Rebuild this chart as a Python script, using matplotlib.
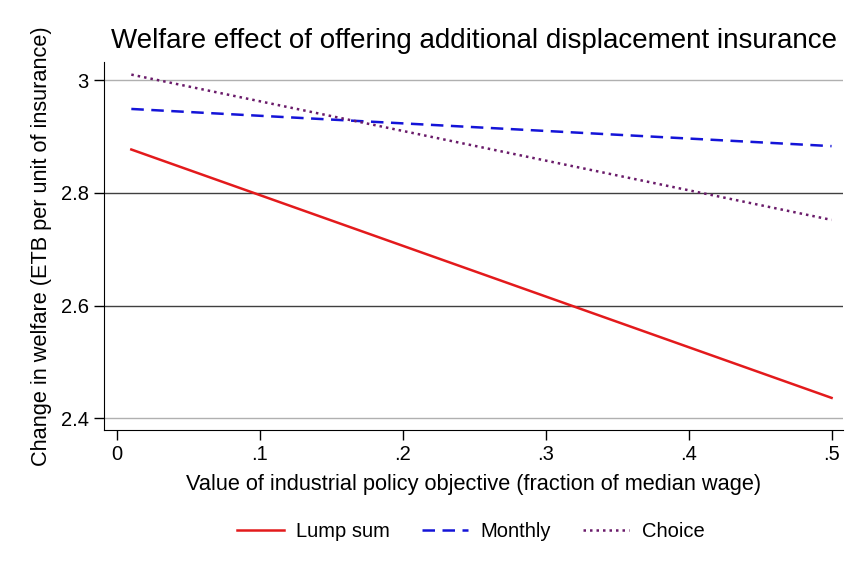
import matplotlib
matplotlib.use("Agg")
import matplotlib.pyplot as plt

plt.rcParams['font.family'] = ['Liberation Sans', 'DejaVu Sans']

x_vals = [0.01, 0.5]
lump_sum = [2.877, 2.436]
monthly = [2.949, 2.883]
choice = [3.010, 2.752]

x_ticks = [0, 0.1, 0.2, 0.3, 0.4, 0.5]
x_tick_labels = ['0', '.1', '.2', '.3', '.4', '.5']
y_ticks = [2.4, 2.6, 2.8, 3.0]
y_tick_labels = ['2.4', '2.6', '2.8', '3']

fig = plt.figure(figsize=(8.64, 5.76), dpi=100)
ax = fig.add_axes([0.1204, 0.2535, 0.8553, 0.6385])

# horizontal grid lines (Stata style)
for yv in y_ticks:
    col = '#b0b0b0' if yv in (2.4, 3.0) else '#404040'
    ax.axhline(yv, color=col, lw=1.0, zorder=1)

l1, = ax.plot(x_vals, lump_sum, color='#e31a1c', lw=1.8, label='Lump sum', zorder=3)
l2, = ax.plot(x_vals, monthly, color='#1414d8', lw=1.8, ls=(0, (5, 3)), label='Monthly', zorder=3)
l3, = ax.plot(x_vals, choice, color='#6a1b6a', lw=1.8, ls=(0, (1, 1.6)), label='Choice', zorder=3)

ax.set_xlim(-0.0091, 0.508)
ax.set_ylim(2.379, 3.032)
ax.set_xticks(x_ticks)
ax.set_xticklabels(x_tick_labels)
ax.set_yticks(y_ticks)
ax.set_yticklabels(y_tick_labels)
ax.tick_params(direction='out', length=7, width=1, labelsize=14.5, pad=4)
ax.spines['top'].set_visible(False)
ax.spines['right'].set_visible(False)

ax.set_title('Welfare effect of offering additional displacement insurance', fontsize=20, pad=10)
ax.set_xlabel('Value of industrial policy objective (fraction of median wage)', fontsize=15.7, labelpad=7)
ax.set_ylabel('Change in welfare (ETB per unit of insurance)', fontsize=15.7, labelpad=6)

fig.legend(handles=[l1, l2, l3], loc='center', bbox_to_anchor=(0.545, 0.078), ncol=3,
           frameon=False, fontsize=14.5, handlelength=2.3, handletextpad=0.6, columnspacing=1.6)

fig.savefig('out.png', dpi=100)
